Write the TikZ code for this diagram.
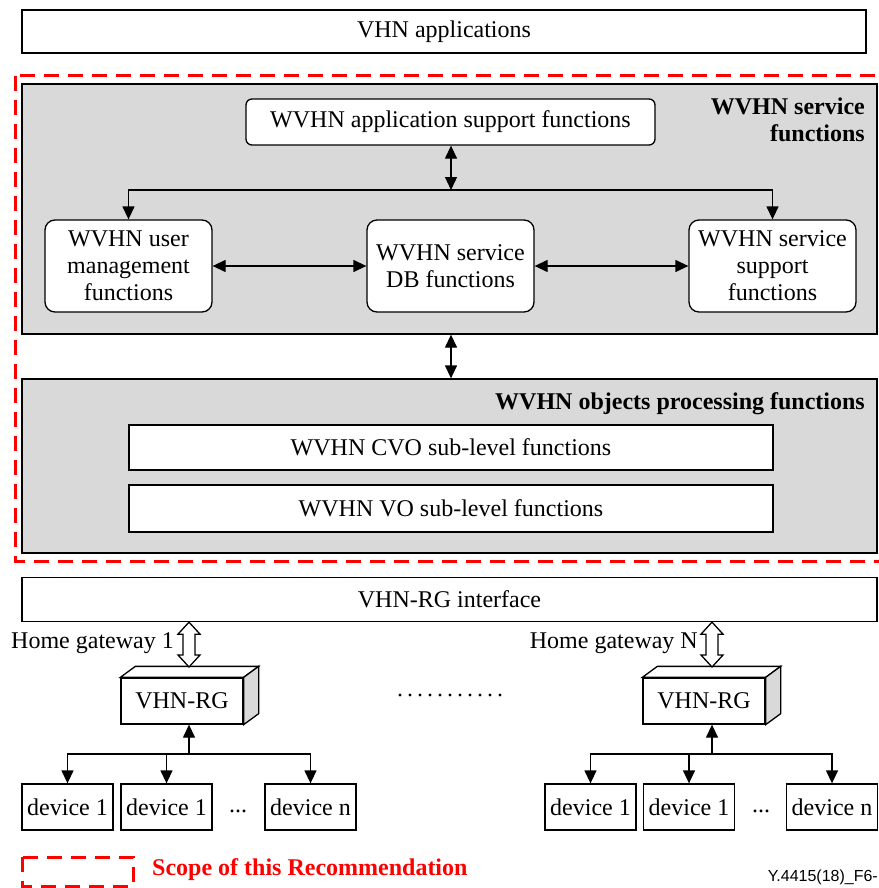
\documentclass[tikz,border=0pt]{standalone}
\usepackage{fontspec}
\setmainfont{Liberation Serif}
\newfontfamily\figsans{Liberation Sans}
\usetikzlibrary{arrows.meta,calc}
\definecolor{panelgray}{RGB}{217,217,217}
\definecolor{scopered}{RGB}{255,0,0}

% hollow double arrow between two coordinates (top, bottom)
\newcommand{\gwlink}[2]{%
  \draw[line width=1.3pt, fill=white] (#1) -- ++(11,12) -- ++(-5,0) -- ($(#2)+(6,-12)$) -- ++(5,0) -- (#2)
    -- ++(-11,-12) -- ++(5,0) -- ($(#1)+(-6,12)$) -- ++(-5,0) -- cycle;}

\begin{document}
\begin{tikzpicture}[x=1pt, y=-1pt,
    every node/.style={font=\fontsize{24}{27}\selectfont},
    plainbox/.style={draw, line width=1.3pt, fill=white, inner sep=0pt, align=center},
    funcbox/.style={plainbox, rounded corners=10pt, minimum width=167pt, minimum height=92pt},
    panel/.style={draw, line width=1.3pt, fill=panelgray, inner sep=0pt},
    devbox/.style={plainbox, minimum width=91pt, minimum height=46pt},
    rgbox/.style={plainbox, minimum width=122pt, minimum height=46pt},
    title/.style={font=\fontsize{24}{27}\selectfont\bfseries, align=right, inner sep=0pt},
    arr/.style={line width=1.3pt, -{Triangle[length=13pt,width=12pt]}},
    darr/.style={line width=1.3pt, {Triangle[length=13pt,width=12pt]}-{Triangle[length=13pt,width=12pt]}},
    scopeline/.style={draw=scopered, line width=3pt, dash pattern=on 15pt off 9pt}
]
    \useasboundingbox (0,0) rectangle (878,888);

    \node[plainbox, minimum width=844pt, minimum height=43pt] (apps) at (444,31.5) {VHN applications};

    \draw[scopeline] (15,76) rectangle (884,561);

    \node[panel, minimum width=855pt, minimum height=250pt] (svc) at (449.5,209) {};
    \node[title, anchor=north east] (svctitle) at (865,98) {WVHN service\\functions};
    \node[plainbox, rounded corners=6pt, minimum width=409pt, minimum height=46pt] (appsup) at (450.5,122) {WVHN application support functions};
    \node[funcbox] (usr) at (128.5,266) {WVHN user\\management\\functions};
    \node[funcbox] (db) at (450.5,266) {WVHN service\\DB functions};
    \node[funcbox] (ssup) at (772.5,266) {WVHN service\\support\\functions};
    \coordinate (hub) at (451,190);
    \draw[darr] (appsup.south -| hub) -- (hub);
    \draw[arr] (hub) -| (usr.north);
    \draw[arr] (hub) -| (ssup.north);
    \draw[darr] (usr) -- (db);
    \draw[darr] (db) -- (ssup);

    \node[panel, minimum width=855pt, minimum height=174pt] (obj) at (449.5,466) {};
    \node[title, anchor=east] (objtitle) at (865,404) {WVHN objects processing functions};
    \node[plainbox, minimum width=644pt, minimum height=45pt] (cvo) at (451,447.5) {WVHN CVO sub-level functions};
    \node[plainbox, minimum width=644pt, minimum height=47pt] (vo) at (451,508.5) {WVHN VO sub-level functions};
    \draw[darr] (svc.south -| hub) -- (obj.north -| hub);

    \node[plainbox, minimum width=855pt, minimum height=44pt] (rgif) at (449.5,599.5) {VHN-RG interface};

    % gateway 1
    \node[rgbox] (rg1) at (182,701) {VHN-RG};
    \draw[line width=1.3pt, fill=white] (rg1.north west) -- ++(15,-11) -- ($(rg1.north east)+(15,-11)$) -- (rg1.north east) -- cycle;
    \draw[line width=1.3pt, fill=panelgray] (rg1.north east) -- ++(15,-11) -- ($(rg1.south east)+(15,-11)$) -- (rg1.south east) -- cycle;
    \coordinate (gw1b) at (189,667);
    \coordinate (gw1t) at (rgif.south -| gw1b);
    \gwlink{gw1t}{gw1b}
    \node[anchor=east, inner sep=0pt] (gw1lab) at (174,643) {Home gateway 1};
    \node[devbox] (d11) at (67.5,807) {device 1};
    \node[devbox] (d12) at (166.5,807) {device 1};
    \node[devbox] (d1n) at (310.5,807) {device n};
    \node[anchor=base, inner sep=0pt] (d1dots) at (238,812) {...};
    \coordinate (t1) at (189,754);
    \draw[arr] (t1) -- (t1 |- rg1.south);
    \draw[arr] (t1) -| (d11.north);
    \draw[arr] (t1) -| (d12.north);
    \draw[arr] (t1) -| (d1n.north);

    % gateway N
    \node[rgbox] (rgN) at (704,701) {VHN-RG};
    \draw[line width=1.3pt, fill=white] (rgN.north west) -- ++(15,-11) -- ($(rgN.north east)+(15,-11)$) -- (rgN.north east) -- cycle;
    \draw[line width=1.3pt, fill=panelgray] (rgN.north east) -- ++(15,-11) -- ($(rgN.south east)+(15,-11)$) -- (rgN.south east) -- cycle;
    \coordinate (gwNb) at (712,667);
    \coordinate (gwNt) at (rgif.south -| gwNb);
    \gwlink{gwNt}{gwNb}
    \node[anchor=east, inner sep=0pt] (gwNlab) at (698,643) {Home gateway N};
    \node[devbox] (dN1) at (590.5,807) {device 1};
    \node[devbox] (dN2) at (689,807) {device 1};
    \node[devbox] (dNn) at (832,807) {device n};
    \node[anchor=base, inner sep=0pt] (dNdots) at (761,812) {...};
    \coordinate (tN) at (712,754);
    \draw[arr] (tN) -- (tN |- rgN.south);
    \draw[arr] (tN) -| (dN1.north);
    \draw[arr] (tN) -| (dN2.north);
    \draw[arr] (tN) -| (dNn.north);

    \foreach \i in {0,...,10}
        \fill (400+10*\i,695) circle (1.7pt);

    % legend
    \draw[scopeline] (22,857) rectangle (133,886);
    \node[anchor=west, inner sep=0pt, text=scopered, font=\fontsize{24}{27}\selectfont\bfseries] (scopelab) at (152,870) {Scope of this Recommendation};
    \node[anchor=east, inner sep=0pt, font=\figsans\fontsize{16}{18}\selectfont] (figid) at (878,877) {Y.4415(18)\_F6-};
\end{tikzpicture}
\end{document}
